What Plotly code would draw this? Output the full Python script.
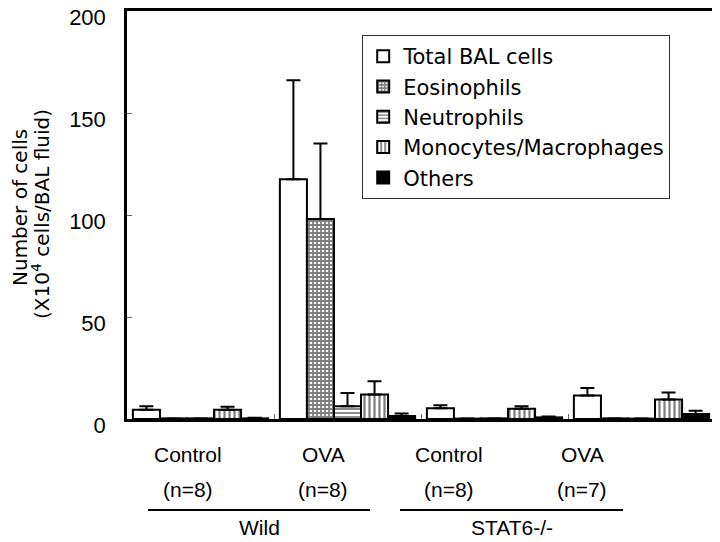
import plotly.graph_objects as go

# groups along the x axis
groups = ["Wild Control", "Wild OVA", "STAT6 Control", "STAT6 OVA"]

total = [4.5, 117.5, 5.3, 11.5]
total_err = [1.8, 48.5, 1.4, 3.7]
eos = [0.3, 98, 0.2, 0.3]
eos_err = [0, 37, 0, 0]
neut = [0.3, 6.3, 0.3, 0.2]
neut_err = [0, 6.5, 0, 0]
mono = [4.5, 12, 5, 9.5]
mono_err = [1.5, 6.5, 1.3, 3.5]
others = [0.3, 1.5, 0.8, 2.5]
others_err = [0.3, 1.2, 0.4, 1.5]

cond_labels = ["Control", "OVA", "Control", "OVA"]
n_labels = ["(n=8)", "(n=8)", "(n=8)", "(n=7)"]
strain_labels = ["Wild", "STAT6-/-"]

FONT = "Liberation Sans, Arial, sans-serif"
WIDE = "DejaVu Sans"

def err(a):
    return dict(type="data", array=a, arrayminus=[0] * len(a), symmetric=False,
                color="black", thickness=2, width=7)

series = [
    ("Total BAL cells", total, total_err, dict(color="white")),
    ("Eosinophils", eos, eos_err,
     dict(color="white", pattern=dict(shape="+", fgcolor="black", bgcolor="white", size=4, solidity=0.7))),
    ("Neutrophils", neut, neut_err,
     dict(color="white", pattern=dict(shape="-", fgcolor="black", bgcolor="white", size=4, solidity=0.45))),
    ("Monocytes/Macrophages", mono, mono_err,
     dict(color="white", pattern=dict(shape="|", fgcolor="black", bgcolor="white", size=5, solidity=0.45))),
    ("Others", others, others_err, dict(color="black")),
]

fig = go.Figure()
for name, vals, e, marker in series:
    marker["line"] = dict(color="black", width=2)
    fig.add_trace(go.Bar(x=groups, y=vals, name=name, marker=marker, error_y=err(e)))

# page body has an 8px margin, so the figure is a bit smaller than the window
fig.update_layout(
    width=712, height=534,
    margin=dict(l=119, r=5, t=3, b=123, autoexpand=False),
    paper_bgcolor="white", plot_bgcolor="white",
    barmode="group", bargap=0.08, bargroupgap=0,
    font=dict(family=FONT, size=21, color="black"),
    legend=dict(x=0.40, y=0.941, xanchor="left", yanchor="top",
                bgcolor="white", bordercolor="#333", borderwidth=1,
                font=dict(family=WIDE, size=21), tracegroupgap=0),
    showlegend=True,
)

fig.update_xaxes(showline=True, linecolor="black", linewidth=2.5, mirror=True,
                 showticklabels=False, ticks="inside", tickson="boundaries",
                 ticklen=5, tickcolor="#666", tickwidth=1, showgrid=False,
                 automargin=False)
fig.update_yaxes(range=[0, 200], tickvals=[0, 50, 100, 150, 200],
                 showline=True, linecolor="black", linewidth=2.5, mirror=True,
                 ticks="inside", ticklen=5, tickcolor="#666", tickwidth=1,
                 ticklabelstandoff=14, ticklabelshift=6, ticklabeloverflow="allow",
                 automargin=False, showgrid=False, zeroline=False,
                 tickfont=dict(size=22))

# group labels under the axis (pixel positions converted to paper)
def px(x):
    return (x - 127) / 588.0

def py(y):
    return (419 - y) / 408.0

# y axis title, two lines
fig.add_annotation(text="Number of cells", xref="paper", yref="paper",
                   x=px(20), y=py(208), textangle=-90, showarrow=False,
                   font=dict(family=WIDE, size=20), xanchor="center", yanchor="middle")
fig.add_annotation(text="(X10<sup>4</sup> cells/BAL fluid)", xref="paper", yref="paper",
                   x=px(41), y=py(214), textangle=-90, showarrow=False,
                   font=dict(family=WIDE, size=20), xanchor="center", yanchor="middle")

label_x = [188, 323, 449, 582]
for lx, c, n in zip(label_x, cond_labels, n_labels):
    fig.add_annotation(text=c, xref="paper", yref="paper", x=px(lx), y=py(455),
                       xanchor="center", yanchor="middle",
                       showarrow=False, font=dict(size=21))
    fig.add_annotation(text=n, xref="paper", yref="paper", x=px(lx), y=py(489),
                       xanchor="center", yanchor="middle",
                       showarrow=False, font=dict(size=21))

line_spans = [(148, 370), (400, 623)]
for (a, b), s in zip(line_spans, strain_labels):
    fig.add_shape(type="line", xref="paper", yref="paper", x0=px(a), x1=px(b),
                  y0=py(510), y1=py(510), line=dict(color="black", width=2))
    fig.add_annotation(text=s, xref="paper", yref="paper", x=px((a + b) / 2), y=py(527),
                       xanchor="center", yanchor="middle",
                       showarrow=False, font=dict(size=21))

fig.write_html("out.html")
